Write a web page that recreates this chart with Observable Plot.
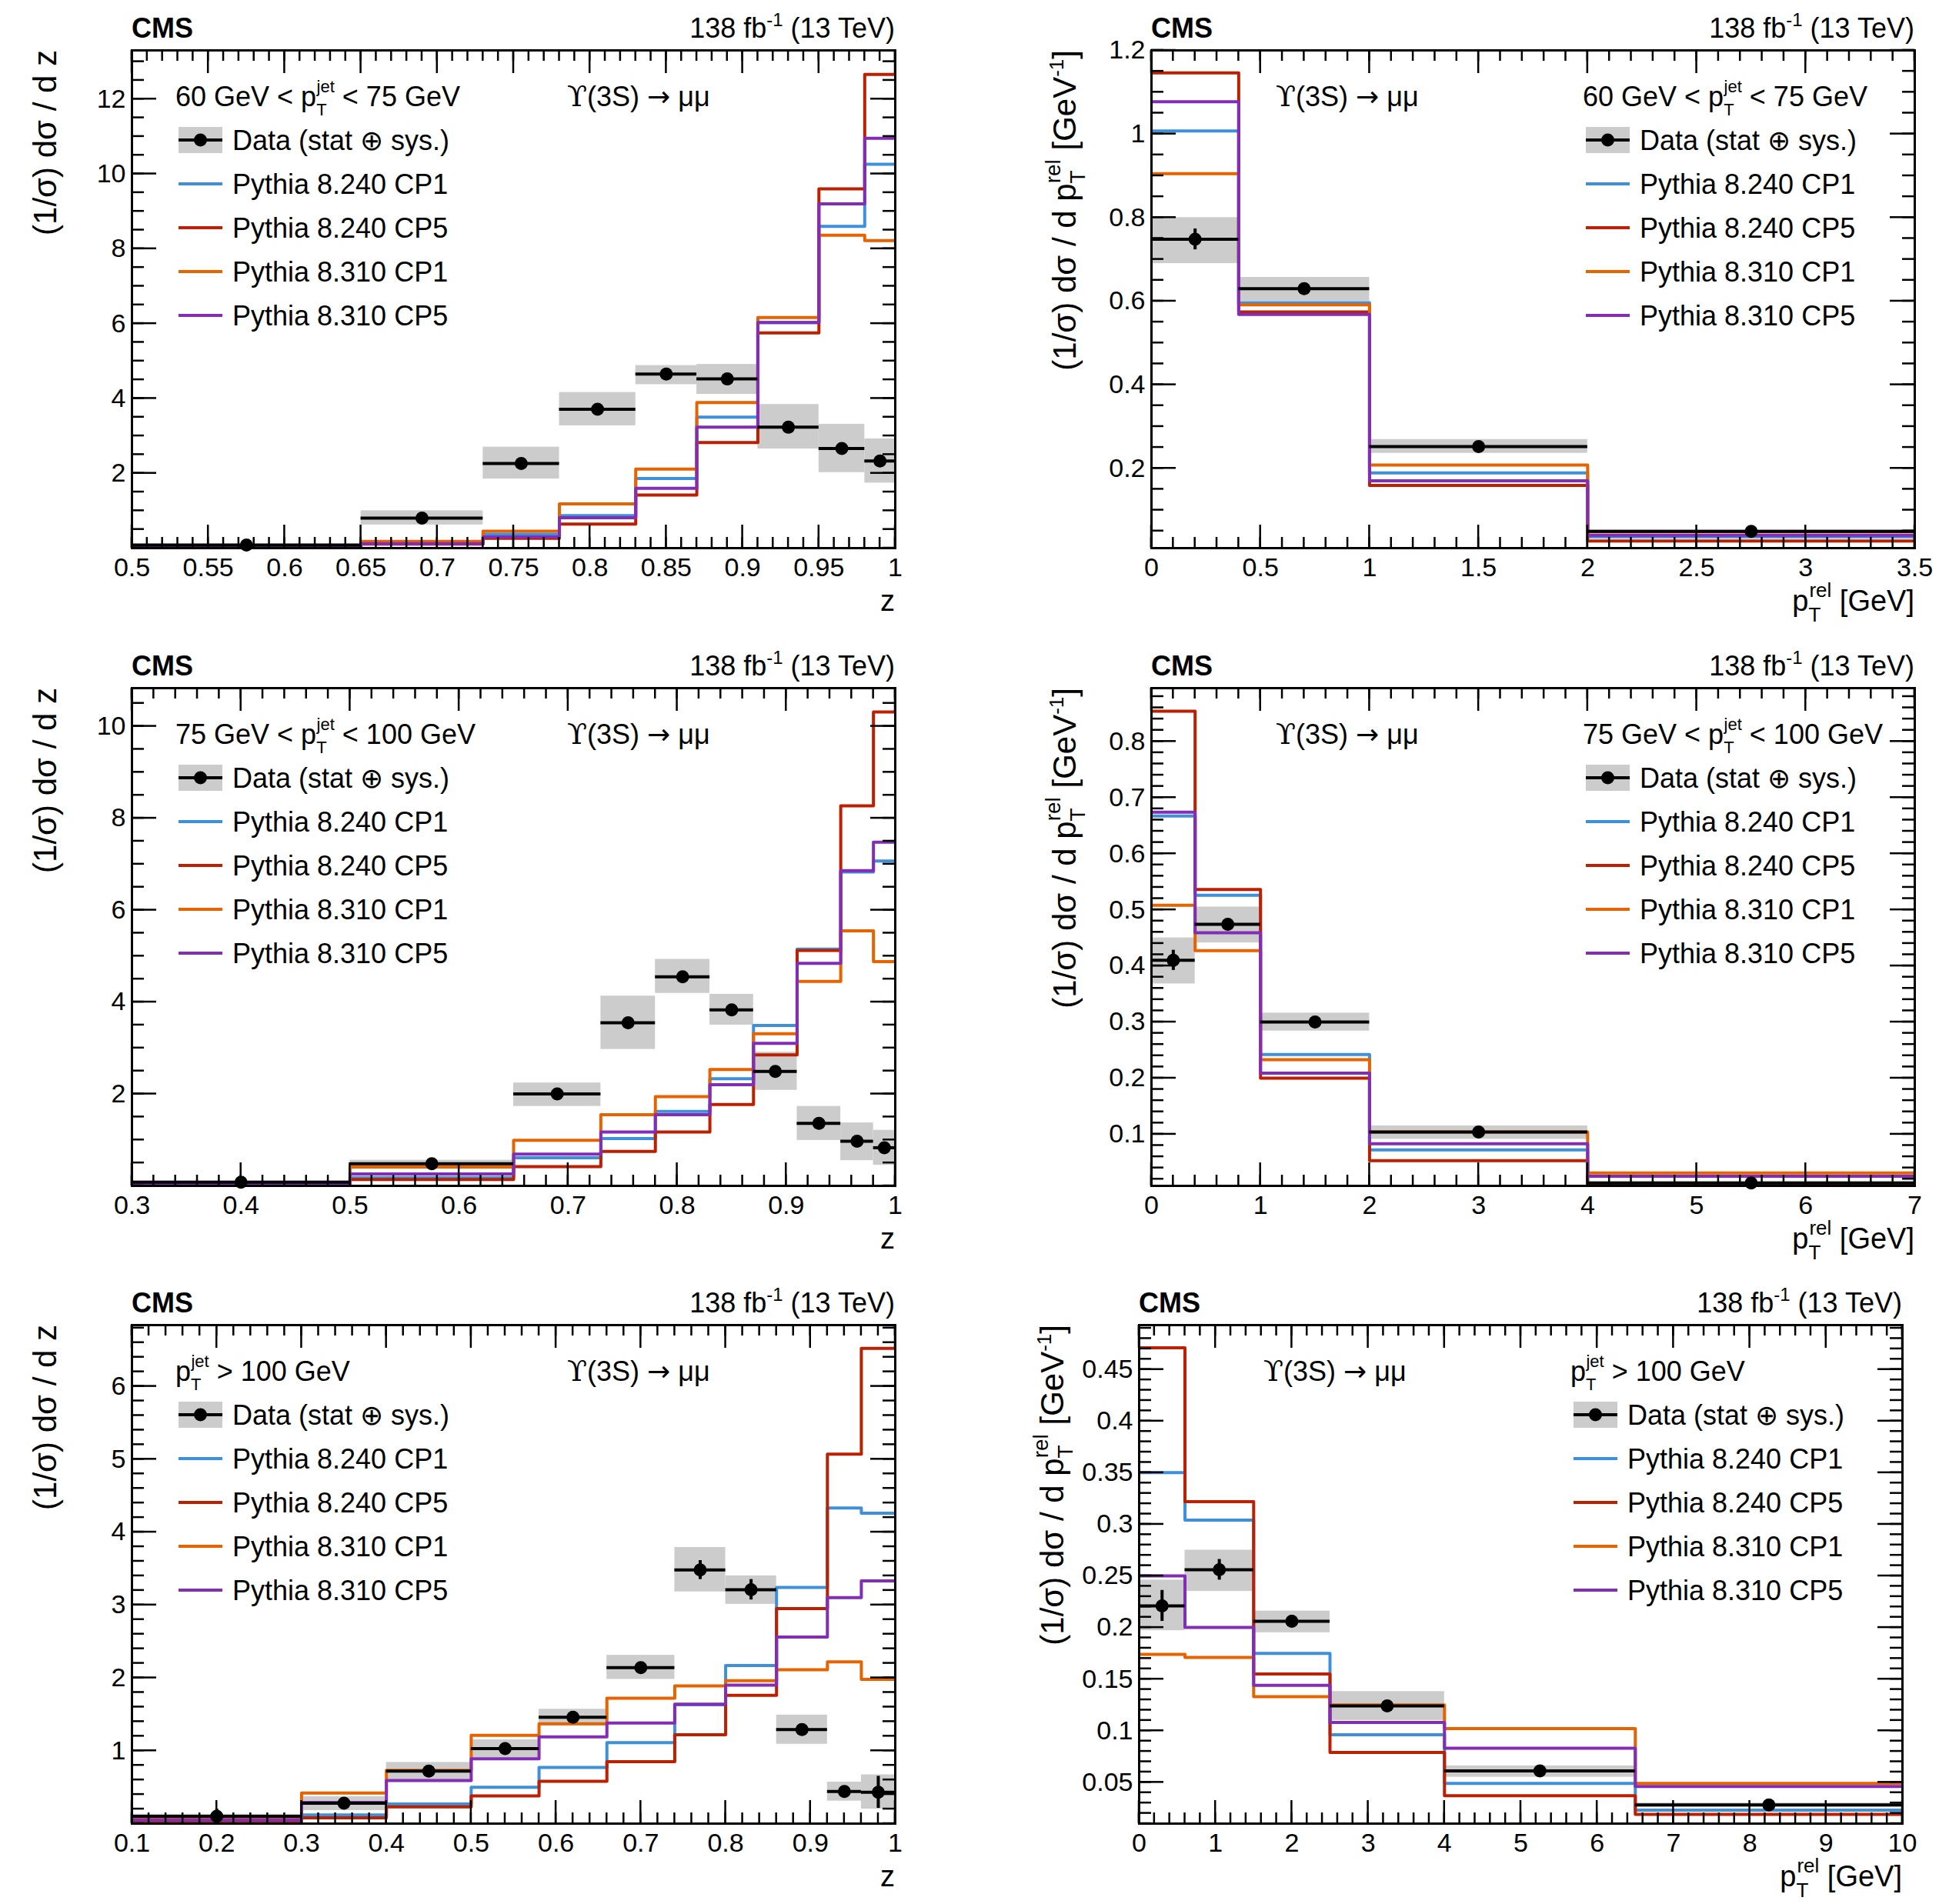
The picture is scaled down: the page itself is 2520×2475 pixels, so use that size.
<!DOCTYPE html>
<html><head><meta charset="utf-8">
<script src="https://cdn.jsdelivr.net/npm/d3@7"></script>
<script src="https://cdn.jsdelivr.net/npm/@observablehq/plot@0.6"></script>
<style>
body{margin:0;background:#fff}
#c{position:relative;width:2520px;height:2475px;font-family:"Liberation Sans",Arial,sans-serif}
.p{position:absolute}
</style></head><body><div id="c"></div>
<script>
const seriesNames = ["Pythia 8.240 CP1","Pythia 8.240 CP5","Pythia 8.310 CP1","Pythia 8.310 CP5"];
const seriesColors = ["#3f90da","#bd1f01","#e76300","#832db6"];

// Panel 1: z, 60 < pT < 75
const p1Edges = [0.5,0.65,0.73,0.78,0.83,0.87,0.91,0.95,0.98,1.0];
const p1Data  = [0.08,0.80,2.26,3.71,4.65,4.52,3.23,2.66,2.33];
const p1Lo    = [0.05,0.62,1.85,3.27,4.37,4.11,2.65,2.02,1.74];
const p1Hi    = [0.11,1.00,2.70,4.16,4.88,4.91,3.84,3.31,2.92];
const p1Stat  = [0.03,0.05,0.08,0.10,0.10,0.10,0.10,0.10,0.15];
const p1_240CP1 = [0.05,0.15,0.37,0.87,1.86,3.50,6.03,8.60,10.26];
const p1_240CP5 = [0.04,0.11,0.26,0.64,1.42,2.82,5.75,9.60,12.66];
const p1_310CP1 = [0.06,0.18,0.45,1.18,2.11,3.89,6.16,8.36,8.22];
const p1_310CP5 = [0.05,0.12,0.30,0.81,1.60,3.23,6.03,9.20,10.95];
const p1XTicks = [0.5,0.55,0.6,0.65,0.7,0.75,0.8,0.85,0.9,0.95,1];
const p1YTicks = [2,4,6,8,10,12];

// Panel 2: pTrel, 60 < pT < 75
const p2Edges = [0,0.4,1,2,3.5];
const p2Data  = [0.748,0.630,0.252,0.049];
const p2Lo    = [0.690,0.600,0.236,0.045];
const p2Hi    = [0.800,0.657,0.269,0.053];
const p2Stat  = [0.025,0.010,0.008,0.004];
const p2_240CP1 = [1.007,0.596,0.189,0.036];
const p2_240CP5 = [1.146,0.574,0.159,0.026];
const p2_310CP1 = [0.905,0.591,0.208,0.048];
const p2_310CP5 = [1.077,0.568,0.170,0.040];
const p2XTicks = [0,0.5,1,1.5,2,2.5,3,3.5];
const p2YTicks = [0.2,0.4,0.6,0.8,1,1.2];

// Panel 3: z, 75 < pT < 100
const p3Edges = [0.3,0.5,0.65,0.73,0.78,0.83,0.87,0.91,0.95,0.98,1.0];
const p3Data  = [0.08,0.48,2.00,3.55,4.55,3.83,2.49,1.36,0.97,0.83];
const p3Lo    = [0.05,0.40,1.73,2.97,4.19,3.50,2.08,0.99,0.55,0.45];
const p3Hi    = [0.11,0.56,2.24,4.13,4.93,4.17,2.91,1.73,1.37,1.21];
const p3Stat  = [0.03,0.04,0.06,0.10,0.10,0.10,0.10,0.08,0.08,0.10];
const p3_240CP1 = [0.03,0.18,0.61,1.03,1.62,2.33,3.49,5.15,6.83,7.07];
const p3_240CP5 = [0.02,0.14,0.42,0.75,1.17,1.77,2.85,5.12,8.27,10.31];
const p3_310CP1 = [0.04,0.41,0.99,1.55,1.94,2.53,3.31,4.45,5.55,4.88];
const p3_310CP5 = [0.03,0.26,0.69,1.17,1.55,2.20,3.10,4.84,6.86,7.48];
const p3XTicks = [0.3,0.4,0.5,0.6,0.7,0.8,0.9,1];
const p3YTicks = [2,4,6,8,10];

// Panel 4: pTrel, 75 < pT < 100
const p4Edges = [0,0.4,1,2,4,7];
const p4Data  = [0.410,0.474,0.300,0.104,0.013];
const p4Lo    = [0.368,0.441,0.284,0.091,0.011];
const p4Hi    = [0.450,0.505,0.316,0.115,0.015];
const p4Stat  = [0.018,0.010,0.006,0.005,0.002];
const p4_240CP1 = [0.667,0.526,0.242,0.072,0.013];
const p4_240CP5 = [0.854,0.536,0.200,0.053,0.011];
const p4_310CP1 = [0.508,0.427,0.233,0.104,0.031];
const p4_310CP5 = [0.674,0.459,0.209,0.083,0.025];
const p4XTicks = [0,1,2,3,4,5,6,7];
const p4YTicks = [0.1,0.2,0.3,0.4,0.5,0.6,0.7,0.8];

// Panel 5: z, pT > 100
const p5Edges = [0.1,0.3,0.4,0.5,0.58,0.66,0.74,0.8,0.86,0.92,0.96,1.0];
const p5Data  = [0.10,0.28,0.72,1.03,1.46,2.14,3.48,3.21,1.29,0.44,0.43];
const p5Lo    = [0.07,0.18,0.60,0.90,1.34,1.98,3.18,3.01,1.09,0.31,0.20];
const p5Hi    = [0.13,0.37,0.84,1.15,1.57,2.31,3.79,3.40,1.49,0.57,0.67];
const p5Stat  = [0.10,0.05,0.05,0.08,0.05,0.05,0.13,0.14,0.08,0.05,0.22];
const p5_240CP1 = [0.04,0.12,0.27,0.50,0.77,1.11,1.63,2.17,3.24,4.33,4.26];
const p5_240CP5 = [0.03,0.08,0.23,0.38,0.58,0.85,1.22,1.76,2.95,5.07,6.52];
const p5_310CP1 = [0.06,0.42,0.73,1.21,1.37,1.72,1.89,1.96,2.11,2.22,1.98];
const p5_310CP5 = [0.05,0.29,0.59,0.89,1.19,1.38,1.64,1.90,2.56,3.10,3.33];
const p5XTicks = [0.1,0.2,0.3,0.4,0.5,0.6,0.7,0.8,0.9,1];
const p5YTicks = [1,2,3,4,5,6];

// Panel 6: pTrel, pT > 100
const p6Edges = [0,0.6,1.5,2.5,4,6.5,10];
const p6Data  = [0.221,0.256,0.206,0.124,0.061,0.028];
const p6Lo    = [0.197,0.235,0.195,0.110,0.055,0.026];
const p6Hi    = [0.246,0.275,0.216,0.138,0.066,0.030];
const p6Stat  = [0.015,0.010,0.006,0.005,0.002,0.002];
const p6_240CP1 = [0.350,0.304,0.175,0.096,0.049,0.023];
const p6_240CP5 = [0.471,0.322,0.155,0.079,0.037,0.019];
const p6_310CP1 = [0.174,0.171,0.133,0.125,0.102,0.049];
const p6_310CP5 = [0.250,0.200,0.144,0.108,0.083,0.046];
const p6XTicks = [0,1,2,3,4,5,6,7,8,9,10];
const p6YTicks = [0.05,0.1,0.15,0.2,0.25,0.3,0.35,0.4,0.45];

const FONT = '"Liberation Sans",Arial,sans-serif';
const SERIF = '"DejaVu Serif",serif';

function rich(g, x, y, segs, fs, opts={}) {
  const t = g.append("text").attr("x", x).attr("y", y).attr("font-size", fs)
    .attr("font-family", FONT).attr("fill", "#000")
    .attr("text-anchor", opts.anchor || "start");
  if (opts.rotate) t.attr("transform", `rotate(-90,${x},${y})`);
  if (opts.bold) t.attr("font-weight", "bold");
  segs.forEach(s => {
    if (typeof s === "string") s = {t: s};
    const ts = t.append("tspan").text(s.t);
    if (s.dy) ts.attr("dy", s.dy);
    if (s.dx) ts.attr("dx", s.dx);
    if (s.f) ts.attr("font-size", s.f);
    if (s.ff) ts.attr("font-family", s.ff);
  });
  return t;
}

const ptJet = (a) => a.length === 2
  ? [a[0] + " < p", {t:"T", dy:12, f:22}, {t:"jet", dx:-13, dy:-30, f:22}, {t:" < " + a[1], dy:18}]
  : ["p", {t:"T", dy:12, f:22}, {t:"jet", dx:-13, dy:-30, f:22}, {t:" > " + a[0], dy:18}];

const upsText = [{t:"ϒ", ff:SERIF, f:38}, "(3S) ", {t:"→", ff:'"DejaVu Sans",sans-serif', f:36}, " μμ"];

function panel(cfg) {
  const {left, top, W, H, fl, ft, fw, fh} = cfg;
  const n = cfg.edges.length - 1;
  const e = cfg.edges;
  const pts = d3.range(n).map(i => ({x1:e[i], x2:e[i+1], x:(e[i]+e[i+1])/2,
    y:cfg.data[i], lo:cfg.lo[i], hi:cfg.hi[i], s:cfg.stat[i]}));
  const lines = [];
  seriesNames.forEach((nm, k) => {
    const v = cfg.mc[k];
    for (let i = 0; i < n; i++) lines.push({s:nm, x:e[i], y:v[i]});
    lines.push({s:nm, x:e[n], y:v[n-1]});
  });
  const fmt = d => String(+d.toFixed(4));
  const plot = Plot.plot({
    width: W, height: H,
    marginLeft: fl, marginTop: ft, marginRight: W - fl - fw, marginBottom: H - ft - fh,
    x: {domain: cfg.xd, axis: null},
    y: {domain: cfg.yd, axis: null},
    color: {domain: seriesNames, range: seriesColors},
    style: {fontFamily: FONT, background: "transparent", color: "#000"},
    marks: [
      Plot.rect(pts, {x1:"x1", x2:"x2", y1:"lo", y2:"hi", fill:"#cccccc"}),
      Plot.line(lines, {x:"x", y:"y", z:"s", stroke:"s", strokeWidth:4, curve:"step-after", clip:true}),
      Plot.ruleY(pts, {y:"y", x1:"x1", x2:"x2", stroke:"#000", strokeWidth:4}),
      Plot.ruleX(pts, {x:"x", y1:d=>d.y-d.s, y2:d=>d.y+d.s, stroke:"#000", strokeWidth:4}),
      Plot.dot(pts, {x:"x", y:"y", r:8.5, fill:"#000"}),
      Plot.axisX(cfg.xTicks, {tickSize:0, tickPadding:12, fontSize:34, tickFormat:fmt, label:null}),
      Plot.axisY(cfg.yTicks, {tickSize:0, tickPadding:8, fontSize:34, tickFormat:fmt, label:null}),
      Plot.frame({stroke:"#000", strokeWidth:3})
    ]
  });
  const xs = plot.scale("x"), ys = plot.scale("y");
  const svg = d3.select(plot);
  const g = svg.append("g");
  const fr = fl + fw, fb = ft + fh;
  const tk = (vals, len, horiz) => vals.forEach(v => {
    if (horiz) {
      const X = xs.apply(v);
      g.append("line").attr("x1",X).attr("x2",X).attr("y1",fb).attr("y2",fb-len).attr("stroke","#000").attr("stroke-width",2.5);
      g.append("line").attr("x1",X).attr("x2",X).attr("y1",ft).attr("y2",ft+len).attr("stroke","#000").attr("stroke-width",2.5);
    } else {
      const Y = ys.apply(v);
      g.append("line").attr("y1",Y).attr("y2",Y).attr("x1",fl).attr("x2",fl+len).attr("stroke","#000").attr("stroke-width",2.5);
      g.append("line").attr("y1",Y).attr("y2",Y).attr("x1",fr).attr("x2",fr-len).attr("stroke","#000").attr("stroke-width",2.5);
    }
  });
  const minors = (dom, step) => d3.range(Math.ceil(dom[0]/step - 1e-6), Math.floor(dom[1]/step + 1e-6) + 1).map(k => +(k*step).toFixed(6));
  tk(minors(cfg.xd, cfg.xMinor), 14, true);
  tk(cfg.xTicks, 30, true);
  tk(minors(cfg.yd, cfg.yMinor), 16, false);
  tk(cfg.yTicks, 32, false);

  rich(g, fl, ft - 16, ["CMS"], 36, {bold:true});
  rich(g, fr, ft - 16, ["138 fb", {t:"-1", dy:-15, f:24}, {t:" (13 TeV)", dy:15}], 36, {anchor:"end"});
  if (cfg.isZ) {
    rich(g, fl - 98, ft, ["(1/σ) dσ / d z"], 42, {rotate:true, anchor:"end"});
    rich(g, fr, fb + 82, ["z"], 38, {anchor:"end"});
  } else {
    rich(g, fl - 98, ft, ["(1/σ) dσ / d p", {t:"T", dy:12, f:28}, {t:"rel", dx:-16, dy:-32, f:28},
      {t:" [GeV", dy:20}, {t:"-1", dy:-16, f:26}, {t:"]", dy:16}], 42, {rotate:true, anchor:"end"});
    rich(g, fr, fb + 82, ["p", {t:"T", dy:14, f:26}, {t:"rel", dx:-14, dy:-32, f:26}, {t:" [GeV]", dy:18}], 38, {anchor:"end"});
  }
  const lx = cfg.isZ ? fl + 57 : fl + 561;
  const ux = cfg.isZ ? fl + 566 : fl + 162;
  rich(g, lx, ft + 73, ptJet(cfg.ptLabel), 36);
  rich(g, ux, ft + 73, upsText, 36);
  const mx = lx + 4;
  const rowY = k => ft + 117 + k*57;
  g.append("rect").attr("x", mx).attr("y", rowY(0)-17).attr("width", 57).attr("height", 34).attr("fill", "#cccccc");
  g.append("line").attr("x1", mx).attr("x2", mx+57).attr("y1", rowY(0)).attr("y2", rowY(0)).attr("stroke","#000").attr("stroke-width",4);
  g.append("circle").attr("cx", mx+28.5).attr("cy", rowY(0)).attr("r", 8.5).attr("fill","#000");
  rich(g, mx + 70, rowY(0) + 13, ["Data (stat ⊕ sys.)"], 36);
  seriesNames.forEach((nm, k) => {
    const Y = rowY(k+1);
    g.append("line").attr("x1", mx).attr("x2", mx+57).attr("y1", Y).attr("y2", Y).attr("stroke", seriesColors[k]).attr("stroke-width",4);
    rich(g, mx + 70, Y + 13, [nm], 36);
  });
  const div = document.createElement("div");
  div.className = "p"; div.style.left = left + "px"; div.style.top = top + "px";
  div.appendChild(plot);
  document.getElementById("c").appendChild(div);
}

const common = {W:1260, fw:992, fh:647};
panel({...common, left:0, top:0, H:830, fl:171, ft:65, isZ:true, ptLabel:["60 GeV","75 GeV"],
  edges:p1Edges, data:p1Data, lo:p1Lo, hi:p1Hi, stat:p1Stat, mc:[p1_240CP1,p1_240CP5,p1_310CP1,p1_310CP5],
  xd:[0.5,1], yd:[0,13.3], xTicks:p1XTicks, yTicks:p1YTicks, xMinor:0.01, yMinor:0.5});
panel({...common, left:1260, top:0, H:830, fl:236, ft:65, isZ:false, ptLabel:["60 GeV","75 GeV"],
  edges:p2Edges, data:p2Data, lo:p2Lo, hi:p2Hi, stat:p2Stat, mc:[p2_240CP1,p2_240CP5,p2_310CP1,p2_310CP5],
  xd:[0,3.5], yd:[0.009,1.2], xTicks:p2XTicks, yTicks:p2YTicks, xMinor:0.1, yMinor:0.05});
panel({...common, left:0, top:830, H:830, fl:171, ft:64, isZ:true, ptLabel:["75 GeV","100 GeV"],
  edges:p3Edges, data:p3Data, lo:p3Lo, hi:p3Hi, stat:p3Stat, mc:[p3_240CP1,p3_240CP5,p3_310CP1,p3_310CP5],
  xd:[0.3,1], yd:[0,10.83], xTicks:p3XTicks, yTicks:p3YTicks, xMinor:0.02, yMinor:0.5});
panel({...common, left:1260, top:830, H:830, fl:236, ft:64, isZ:false, ptLabel:["75 GeV","100 GeV"],
  edges:p4Edges, data:p4Data, lo:p4Lo, hi:p4Hi, stat:p4Stat, mc:[p4_240CP1,p4_240CP5,p4_310CP1,p4_310CP5],
  xd:[0,7], yd:[0.008,0.895], xTicks:p4XTicks, yTicks:p4YTicks, xMinor:0.2, yMinor:0.02});
panel({...common, left:0, top:1660, H:815, fl:171, ft:62, fh:648, isZ:true, ptLabel:["100 GeV"],
  edges:p5Edges, data:p5Data, lo:p5Lo, hi:p5Hi, stat:p5Stat, mc:[p5_240CP1,p5_240CP5,p5_310CP1,p5_310CP5],
  xd:[0.1,1], yd:[0,6.84], xTicks:p5XTicks, yTicks:p5YTicks, xMinor:0.02, yMinor:0.2});
panel({...common, left:1260, top:1660, H:815, fl:220, ft:62, fh:648, isZ:false, ptLabel:["100 GeV"],
  edges:p6Edges, data:p6Data, lo:p6Lo, hi:p6Hi, stat:p6Stat, mc:[p6_240CP1,p6_240CP5,p6_310CP1,p6_310CP5],
  xd:[0,10], yd:[0.01,0.493], xTicks:p6XTicks, yTicks:p6YTicks, xMinor:0.2, yMinor:0.01});
</script></body></html>
